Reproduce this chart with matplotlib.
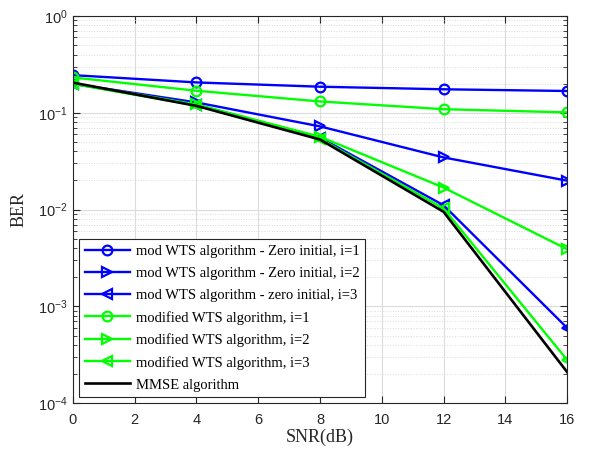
import matplotlib
matplotlib.use("Agg")
import matplotlib.pyplot as plt
import numpy as np

snr = [0, 4, 8, 12, 16]

# BER values
mod_zero_i1 = [0.245, 0.206, 0.186, 0.175, 0.168]
mod_zero_i2 = [0.200, 0.128, 0.0724, 0.0346, 0.0199]
mod_zero_i3 = [0.200, 0.121, 0.0555, 0.0111, 0.00060]
modified_i1 = [0.232, 0.169, 0.131, 0.109, 0.101]
modified_i2 = [0.201, 0.122, 0.0566, 0.0169, 0.0039]
modified_i3 = [0.199, 0.119, 0.0540, 0.0103, 0.00028]
mmse = [0.205, 0.118, 0.0530, 0.0095, 0.00021]

labels = [
    "mod WTS algorithm - Zero initial, i=1",
    "mod WTS algorithm - Zero initial, i=2",
    "mod WTS algorithm - zero initial, i=3",
    "modified WTS algorithm, i=1",
    "modified WTS algorithm, i=2",
    "modified WTS algorithm, i=3",
    "MMSE algorithm",
]

plt.rcParams["font.family"] = "Liberation Sans"
plt.rcParams["mathtext.fontset"] = "custom"
plt.rcParams["mathtext.rm"] = "Liberation Sans"
plt.rcParams["mathtext.it"] = "Liberation Sans"

fig = plt.figure(figsize=(6.02, 4.51), dpi=100)
ax = fig.add_axes([0.121, 0.106, 0.821, 0.8585])

blue = (0, 0, 1)
green = (0, 1, 0)
series = [
    (mod_zero_i1, blue, "o"),
    (mod_zero_i2, blue, ">"),
    (mod_zero_i3, blue, "<"),
    (modified_i1, green, "o"),
    (modified_i2, green, ">"),
    (modified_i3, green, "<"),
]
for (vals, col, mk), lab in zip(series, labels):
    ax.semilogy(snr, vals, color=col, marker=mk, markersize=7, markerfacecolor="none",
                markeredgewidth=1.6, linewidth=1.7, label=lab)
ax.semilogy(snr, mmse, color="black", linewidth=1.9, label=labels[-1])

ax.set_xlim(0, 16)
ax.set_ylim(1e-4, 1e0)
ax.set_xticks(np.arange(0, 17, 2))

ax.grid(True, which="major", color=(0.86, 0.86, 0.86), linewidth=0.8)
ax.grid(True, which="minor", axis="y", color=(0.86, 0.86, 0.86), linestyle=":", linewidth=0.7)
ax.set_axisbelow(True)

tick_col = (0.15, 0.15, 0.15)
ax.tick_params(which="both", direction="in", top=True, right=True, colors=tick_col,
               labelsize=10.5, labelcolor=tick_col)
ax.tick_params(which="major", length=5)
ax.tick_params(which="minor", length=3)
ax.tick_params(axis="x", pad=7)
for sp in ax.spines.values():
    sp.set_color(tick_col)
    sp.set_linewidth(0.8)

ax.set_xlabel("SNR(dB)", fontfamily="Liberation Serif", fontsize=13, color=tick_col, labelpad=1)
ax.set_ylabel("BER", fontfamily="Liberation Serif", fontsize=13, color=tick_col, labelpad=8)

leg = ax.legend(loc="lower left", prop={"family": "Liberation Serif", "size": 10.5},
                fancybox=False, framealpha=1, edgecolor=tick_col,
                handlelength=3.1, labelspacing=0.6, borderaxespad=0.4,
                handletextpad=0.4, borderpad=0.4)
leg.get_frame().set_linewidth(0.8)

fig.savefig("out.png", dpi=100)
